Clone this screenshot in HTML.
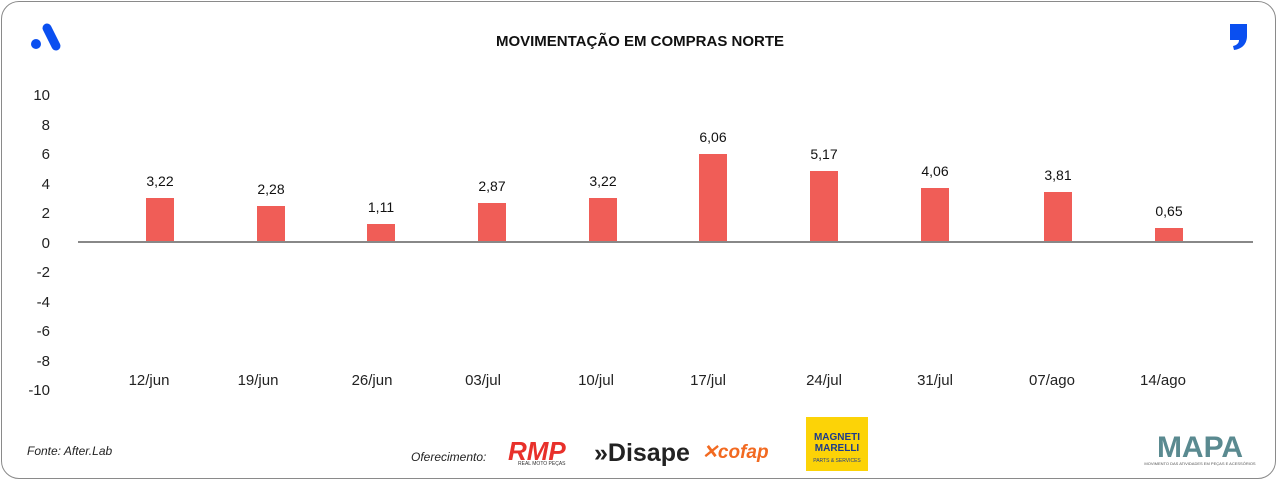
<!DOCTYPE html>
<html><head><meta charset="utf-8"><style>
body{margin:0;width:1280px;height:483px;background:#fff;font-family:"Liberation Sans",sans-serif;overflow:hidden}
.card{position:absolute;left:1px;top:1px;width:1275px;height:478px;border:1.5px solid #8a8a8a;border-radius:18px;box-sizing:border-box}
</style></head><body>
<div class="card"></div>
<svg width="1280" height="483" style="position:absolute;left:0;top:0" font-family="Liberation Sans, sans-serif">
<g>
<line x1="47" y1="28" x2="56" y2="46" stroke="#0a4ff0" stroke-width="9" stroke-linecap="round"/>
<circle cx="36" cy="44" r="5" fill="#0a4ff0"/>
</g>
<path d="M1230 24h17v12c0 8-5 13-13 14l-1-4c4-1 6-3 6-6h-9z" fill="#0a4ff0"/>
<text x="640" y="46" text-anchor="middle" font-size="15" font-weight="bold" fill="#111">MOVIMENTAÇÃO EM COMPRAS NORTE</text>
<g font-size="15" fill="#222" text-anchor="end">
<text x="50" y="100">10</text><text x="50" y="130">8</text><text x="50" y="159">6</text><text x="50" y="189">4</text><text x="50" y="218">2</text><text x="50" y="248">0</text><text x="50" y="277">-2</text><text x="50" y="307">-4</text><text x="50" y="336">-6</text><text x="50" y="366">-8</text><text x="50" y="395">-10</text>
</g>
<g fill="#f05d57">
<rect x="146" y="198" width="28" height="44"/><rect x="257" y="206" width="28" height="36"/><rect x="367" y="224" width="28" height="18"/><rect x="478" y="203" width="28" height="39"/><rect x="589" y="198" width="28" height="44"/><rect x="699" y="154" width="28" height="88"/><rect x="810" y="171" width="28" height="71"/><rect x="921" y="188" width="28" height="54"/><rect x="1044" y="192" width="28" height="50"/><rect x="1155" y="228" width="28" height="14"/>
</g>
<line x1="78" y1="242" x2="1253" y2="242" stroke="#888" stroke-width="2"/>
<g font-size="14" fill="#111" text-anchor="middle">
<text x="160" y="186">3,22</text><text x="271" y="194">2,28</text><text x="381" y="212">1,11</text><text x="492" y="191">2,87</text><text x="603" y="186">3,22</text><text x="713" y="142">6,06</text><text x="824" y="159">5,17</text><text x="935" y="176">4,06</text><text x="1058" y="180">3,81</text><text x="1169" y="216">0,65</text>
</g>
<g font-size="15" fill="#222" text-anchor="middle">
<text x="149" y="385">12/jun</text><text x="258" y="385">19/jun</text><text x="372" y="385">26/jun</text><text x="483" y="385">03/jul</text><text x="596" y="385">10/jul</text><text x="708" y="385">17/jul</text><text x="824" y="385">24/jul</text><text x="935" y="385">31/jul</text><text x="1052" y="385">07/ago</text><text x="1163" y="385">14/ago</text>
</g>
<text x="27" y="455" font-size="12" font-style="italic" fill="#222">Fonte: After.Lab</text>
<text x="411" y="461" font-size="12" font-style="italic" fill="#222">Oferecimento:</text>
<text x="508" y="460" font-size="26" font-weight="bold" fill="#e8302a" font-style="italic">RMP</text>
<text x="518" y="465" font-size="5" fill="#333">REAL MOTO PEÇAS</text>
<text x="594" y="461" font-size="25" font-weight="bold" fill="#222">»Disape</text>
<text x="702" y="458" font-size="19" font-weight="bold" font-style="italic" fill="#f26a21">✕cofap</text>
<rect x="806" y="417" width="62" height="54" fill="#fcd307"/>
<text x="837" y="440" font-size="10" font-weight="bold" fill="#1d3b8c" text-anchor="middle">MAGNETI</text>
<text x="837" y="451" font-size="10" font-weight="bold" fill="#1d3b8c" text-anchor="middle">MARELLI</text>
<text x="837" y="462" font-size="5" fill="#1d3b8c" text-anchor="middle">PARTS &amp; SERVICES</text>
<text x="1200" y="457" font-size="30" font-weight="bold" fill="#5a8a90" text-anchor="middle">MAPA</text>
<text x="1200" y="465" font-size="4" fill="#555" text-anchor="middle">MOVIMENTO DAS ATIVIDADES EM PEÇAS E ACESSÓRIOS</text>
</svg>
</body></html>
